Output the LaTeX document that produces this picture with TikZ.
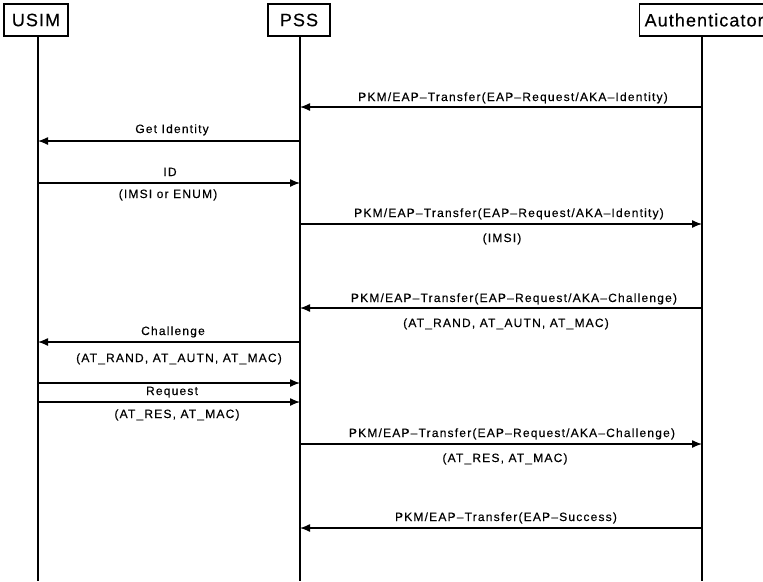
\documentclass[tikz,border=0pt]{standalone}
\usepackage{fontspec}
\setmainfont[LetterSpace=10,FakeBold=0.3]{Liberation Sans}
\newfontfamily\headfont[LetterSpace=6,FakeBold=0.3]{Liberation Sans}
\usetikzlibrary{arrows.meta}

\begin{document}
\begin{tikzpicture}[x=1pt,y=-1pt,
  head/.style={draw, line width=1.3pt, minimum height=32pt, inner xsep=5pt,
               font=\headfont\fontsize{18}{20}\selectfont},
  life/.style={line width=1.3pt},
  msg/.style={line width=1.3pt, -{Latex[length=10pt,width=8pt]}},
  lbl/.style={anchor=base, inner sep=0pt, font=\fontsize{12}{14}\selectfont}]
\useasboundingbox (0,0) rectangle (763,581);

% entities
\node[head, minimum width=64pt] (usim) at (36,20) {USIM};
\node[head, minimum width=62pt] (pss) at (299,20) {PSS};
\node[head, anchor=west] (auth) at (639,20) {Authenticator};

% lifelines
\coordinate (uBot) at (38,581);
\coordinate (pBot) at (300,581);
\coordinate (aBot) at (702,581);
\draw[life] (usim.south -| uBot) -- (uBot);
\draw[life] (pss.south -| pBot) -- (pBot);
\draw[life] (auth.south -| aBot) -- (aBot);

% message anchor points on each lifeline
\foreach \n/\y in {1/107,2/141,3/183,4/224,5/308,6/342,7/383,8/402,9/444,10/528}{
  \coordinate (u\n) at (38,\y);
  \coordinate (p\n) at (300,\y);
  \coordinate (a\n) at (702,\y);
}

% messages
\draw[msg] (a1) -- (p1);
\draw[msg] (p2) -- (u2);
\draw[msg] (u3) -- (p3);
\draw[msg] (p4) -- (a4);
\draw[msg] (a5) -- (p5);
\draw[msg] (p6) -- (u6);
\draw[msg] (u7) -- (p7);
\draw[msg] (u8) -- (p8);
\draw[msg] (p9) -- (a9);
\draw[msg] (a10) -- (p10);

% labels
\node[lbl] (t1) at (513,101) {PKM/EAP–Transfer(EAP–Request/AKA–Identity)};
\node[lbl] (t2) at (172,133) {Get Identity};
\node[lbl] (t3) at (170,176) {ID};
\node[lbl] (t3b) at (168,198) {(IMSI or ENUM)};
\node[lbl] (t4) at (509,217) {PKM/EAP–Transfer(EAP–Request/AKA–Identity)};
\node[lbl] (t4b) at (502,242) {(IMSI)};
\node[lbl] (t5) at (514,302) {PKM/EAP–Transfer(EAP–Request/AKA–Challenge)};
\node[lbl] (t5b) at (506,327) {(AT\_RAND, AT\_AUTN, AT\_MAC)};
\node[lbl] (t6) at (173,335) {Challenge};
\node[lbl] (t6b) at (179,362) {(AT\_RAND, AT\_AUTN, AT\_MAC)};
\node[lbl] (t7) at (172,395) {Request};
\node[lbl] (t7b) at (177,418) {(AT\_RES, AT\_MAC)};
\node[lbl] (t9) at (512,437) {PKM/EAP–Transfer(EAP–Request/AKA–Challenge)};
\node[lbl] (t9b) at (505,462) {(AT\_RES, AT\_MAC)};
\node[lbl] (t10) at (506,521) {PKM/EAP–Transfer(EAP–Success)};
\end{tikzpicture}
\end{document}
